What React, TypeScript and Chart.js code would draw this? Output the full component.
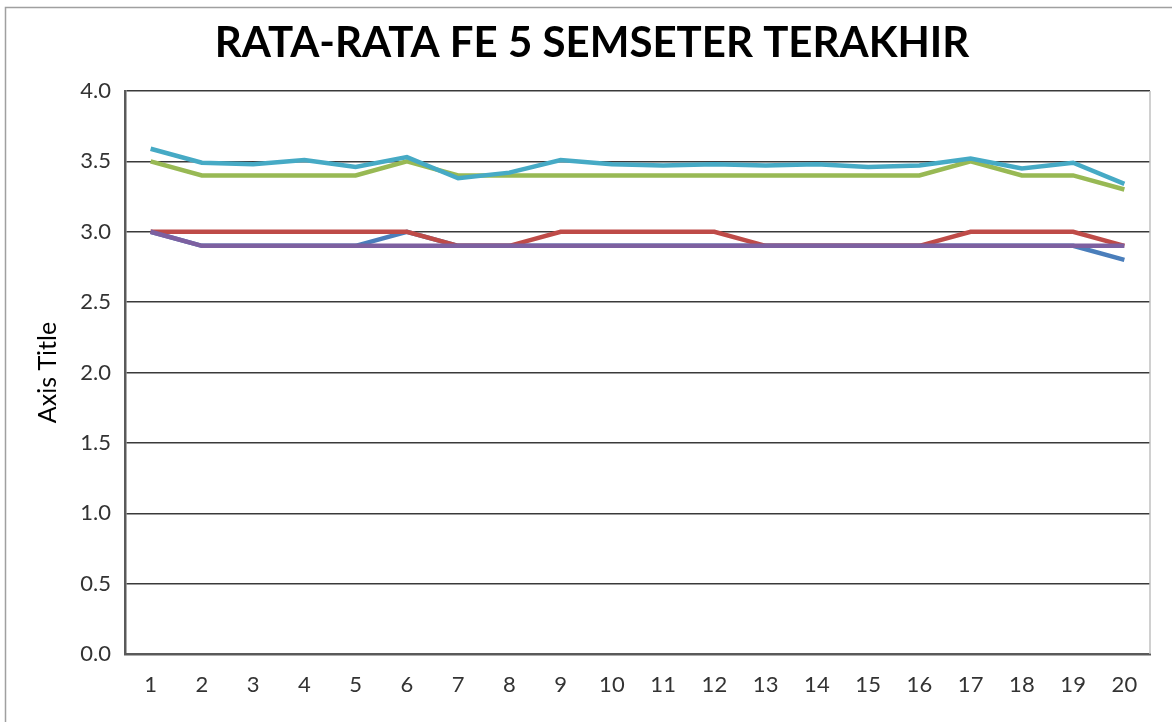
import React, { useEffect, useRef } from 'react';
import { Chart, registerables } from 'chart.js';

Chart.register(...registerables);

const titleText = 'RATA-RATA FE 5 SEMSETER TERAKHIR';
const yAxisTitle = 'Axis Title';
const categories = ['1', '2', '3', '4', '5', '6', '7', '8', '9', '10', '11', '12', '13', '14', '15', '16', '17', '18', '19', '20'];
const seriesNames = ['Series1', 'Series2', 'Series3', 'Series4', 'Series5'];
const series1 = [3.0, 2.9, 2.9, 2.9, 2.9, 3.0, 2.9, 2.9, 2.9, 2.9, 2.9, 2.9, 2.9, 2.9, 2.9, 2.9, 2.9, 2.9, 2.9, 2.8];
const series2 = [3.0, 3.0, 3.0, 3.0, 3.0, 3.0, 2.9, 2.9, 3.0, 3.0, 3.0, 3.0, 2.9, 2.9, 2.9, 2.9, 3.0, 3.0, 3.0, 2.9];
const series3 = [3.5, 3.4, 3.4, 3.4, 3.4, 3.5, 3.4, 3.4, 3.4, 3.4, 3.4, 3.4, 3.4, 3.4, 3.4, 3.4, 3.5, 3.4, 3.4, 3.3];
const series4 = [3.0, 2.9, 2.9, 2.9, 2.9, 2.9, 2.9, 2.9, 2.9, 2.9, 2.9, 2.9, 2.9, 2.9, 2.9, 2.9, 2.9, 2.9, 2.9, 2.9];
const series5 = [3.59, 3.49, 3.48, 3.51, 3.46, 3.53, 3.38, 3.42, 3.51, 3.48, 3.47, 3.48, 3.47, 3.48, 3.46, 3.47, 3.52, 3.45, 3.49, 3.34];
const seriesColors = ['#4A7EBB', '#BE4B48', '#98B954', '#7D60A0', '#46AAC5'];
const yTickValues = [0, 0.5, 1, 1.5, 2, 2.5, 3, 3.5, 4];

const framePlugin = {
  id: 'frame',
  beforeDraw(chart: any) {
    const ctx = chart.ctx;
    ctx.save();
    ctx.fillStyle = '#ffffff';
    ctx.fillRect(0, 0, chart.width, chart.height);
    ctx.restore();
  },
  afterDraw(chart: any) {
    const ctx = chart.ctx;
    const a = chart.chartArea;
    ctx.save();
    ctx.strokeStyle = '#A0A0A0';
    ctx.lineWidth = 1.5;
    ctx.beginPath();
    ctx.moveTo(5.5, chart.height);
    ctx.lineTo(5.5, 7.5);
    ctx.lineTo(chart.width, 7.5);
    ctx.stroke();
    ctx.strokeStyle = '#C0C0C0';
    ctx.beginPath();
    ctx.moveTo(a.right, a.top);
    ctx.lineTo(a.right, a.bottom);
    ctx.stroke();
    ctx.fillStyle = '#000000';
    ctx.font = 'bold 42px Lato';
    ctx.textAlign = 'center';
    ctx.textBaseline = 'alphabetic';
    ctx.fillText(titleText, 592, 57);
    ctx.restore();
  },
};

export default function App() {
  const ref = useRef<HTMLCanvasElement | null>(null);

  useEffect(() => {
    document.body.style.margin = '0';
    const canvas = ref.current;
    if (!canvas) return;
    const allSeries = [series1, series2, series3, series4, series5];
    const chart = new Chart(canvas, {
      type: 'line',
      data: {
        labels: categories,
        datasets: allSeries.map((d, i) => ({
          label: seriesNames[i],
          data: d,
          borderColor: seriesColors[i],
          backgroundColor: seriesColors[i],
          borderWidth: 4.5,
          pointRadius: 0,
          tension: 0,
          fill: false,
          order: 5 - i,
        })),
      },
      options: {
        animation: false,
        responsive: false,
        maintainAspectRatio: false,
        layout: { padding: { left: 5, right: 22, top: 91, bottom: 0 } },
        plugins: {
          legend: { display: false },
          tooltip: { enabled: false },
          title: { display: false },
        },
        scales: {
          x: {
            type: 'category',
            offset: true,
            grid: { display: false, drawTicks: false },
            border: { display: true, color: '#5A5A5A', width: 2.5 },
            ticks: { color: '#333333', font: { family: 'Lato', size: 22 }, padding: 18, maxRotation: 0, autoSkip: false },
            afterFit: (s: any) => { s.height = 68; },
          },
          y: {
            min: 0,
            max: 4,
            afterBuildTicks: (s: any) => { s.ticks = yTickValues.map((v) => ({ value: v })); },
            grid: { color: '#3A3A3A', lineWidth: 1.5, drawTicks: false },
            border: { display: true, color: '#5A5A5A', width: 2.5 },
            ticks: { color: '#333333', font: { family: 'Lato', size: 22 }, padding: 14, callback: (v: any) => Number(v).toFixed(1) },
            title: { display: true, text: yAxisTitle, color: '#000000', font: { family: 'Lato', size: 25 }, padding: { top: 28, bottom: 0 } },
            afterFit: (s: any) => { s.width = 120; },
          },
        },
      },
      plugins: [framePlugin],
    });
    return () => chart.destroy();
  }, []);

  return (
    <div style={{ width: 1172, height: 722 }}>
      <canvas ref={ref} width={1172} height={722} style={{ display: 'block', width: 1172, height: 722 }} />
    </div>
  );
}
